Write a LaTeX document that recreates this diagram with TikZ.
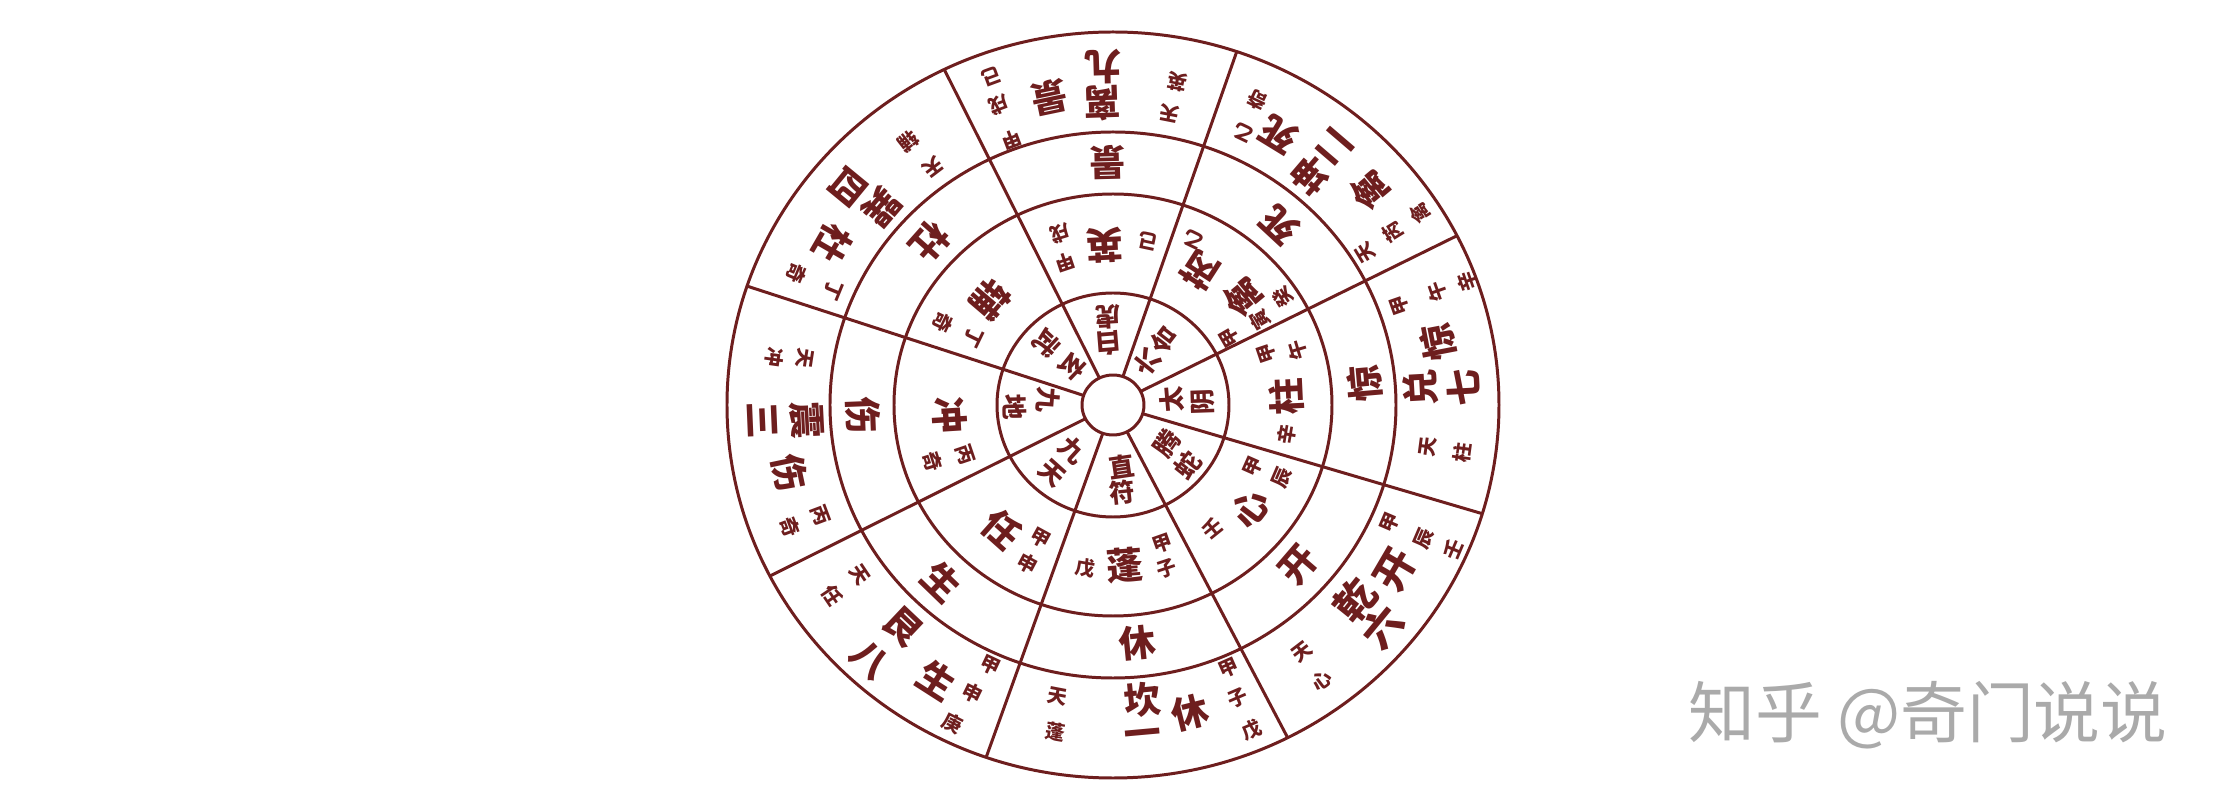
\documentclass[tikz,border=0pt]{standalone}
\usepackage{fontspec}
\newfontfamily\cjk{Noto Sans CJK SC}
\definecolor{ink}{HTML}{6E1E1E}
\definecolor{wm}{HTML}{AAAAAA}
\newcounter{qn}
\tikzset{
  bigc/.style={inner sep=0pt, text=ink, font=\cjk\bfseries\fontsize{10.5}{11}\selectfont},
  hugec/.style={inner sep=0pt, text=ink, font=\cjk\bfseries\fontsize{11.5}{12}\selectfont},
  midc/.style={inner sep=0pt, text=ink, font=\cjk\bfseries\fontsize{7.3}{8}\selectfont},
  smallc/.style={inner sep=0pt, text=ink, font=\cjk\bfseries\fontsize{5.6}{6}\selectfont},
  ringline/.style={draw=ink, line width=0.85pt},
}
% #1 style, #2 x, #3 y (image pixels), #4 text
\newcommand\qc[4]{%
  \stepcounter{qn}%
  \pgfmathsetmacro\qX{#2-1113}%
  \pgfmathsetmacro\qY{405-#3}%
  \pgfmathsetmacro\qA{atan2(\qY,\qX)+90}%
  \node[#1,rotate=\qA] (q\theqn) at (\qX,\qY) {#4};%
}
\begin{document}
\begin{tikzpicture}[x=0.1mm,y=0.1mm]
\useasboundingbox[fill=white] (-1113,-400) rectangle (1108,405);
% radial lines
\begin{scope}
  \clip (0,0) ellipse [x radius=386, y radius=373];
  \foreach \a in {26.2,70.7,116.7,162,206.5,250.2,297.7,343.6}
    \draw[ringline] (0,0) -- (\a:460);
\end{scope}
% rings
\draw[ringline] (0,0) ellipse [x radius=386, y radius=373];
\draw[ringline] (0,0) ellipse [x radius=283, y radius=273];
\draw[ringline] (0,0) ellipse [x radius=219, y radius=211];
\draw[ringline] (0,0) ellipse [x radius=116, y radius=112];
\filldraw[ringline, fill=white] (0,0) ellipse [x radius=31, y radius=30];

% ---- Kan (bottom)
\qc{smallc}{1057}{697}{天}\qc{smallc}{1055}{732}{蓬}
\qc{bigc}{1142}{700}{坎}\qc{bigc}{1143}{738}{一}\qc{bigc}{1190}{712}{休}
\qc{smallc}{1229}{668}{甲}\qc{smallc}{1238}{698}{子}\qc{smallc}{1252}{730}{戊}
\qc{bigc}{1137}{643}{休}
\qc{smallc}{1085}{568}{戊}\qc{bigc}{1125}{565}{蓬}\qc{smallc}{1162}{544}{甲}\qc{smallc}{1167}{569}{子}
\qc{midc}{1122}{467}{直}\qc{midc}{1122}{492}{符}
% ---- Gen (lower left)
\qc{smallc}{860}{575}{天}\qc{smallc}{832}{595}{任}
\qc{bigc}{903}{627}{艮}\qc{bigc}{870}{660}{八}\qc{bigc}{937}{680}{生}
\qc{smallc}{990}{665}{甲}\qc{smallc}{973}{693}{申}\qc{smallc}{953}{723}{庚}
\qc{bigc}{942}{582}{生}
\qc{bigc}{1002}{529}{任}\qc{smallc}{1040}{538}{甲}\qc{smallc}{1028}{564}{申}
\qc{midc}{1072}{450}{九}\qc{midc}{1052}{473}{天}
% ---- Zhen (left)
\qc{smallc}{805}{358}{天}\qc{smallc}{775}{357}{冲}
\qc{bigc}{807}{420}{震}\qc{bigc}{763}{420}{三}\qc{bigc}{790}{473}{伤}
\qc{smallc}{820}{515}{丙}\qc{smallc}{790}{527}{奇}
\qc{bigc}{863}{415}{伤}
\qc{bigc}{950}{415}{冲}\qc{smallc}{965}{455}{丙}\qc{smallc}{933}{462}{奇}
\qc{midc}{1048}{400}{九}\qc{midc}{1015}{407}{地}
% ---- Xun (upper left)
\qc{smallc}{933}{167}{天}\qc{smallc}{908}{142}{辅}
\qc{bigc}{882}{207}{巽}\qc{bigc}{848}{187}{四}\qc{bigc}{832}{243}{杜}
\qc{smallc}{833}{290}{丁}\qc{smallc}{797}{273}{奇}
\qc{bigc}{930}{242}{杜}
\qc{bigc}{990}{300}{辅}\qc{smallc}{973}{337}{丁}\qc{smallc}{943}{323}{奇}
\qc{midc}{1073}{367}{玄}\qc{midc}{1047}{343}{武}
% ---- Li (top)
\qc{smallc}{1012}{140}{甲}\qc{smallc}{999}{105}{戌}\qc{smallc}{992}{77}{己}
\qc{bigc}{1049}{98}{景}\qc{bigc}{1103}{103}{离}\qc{bigc}{1103}{67}{九}
\qc{smallc}{1170}{113}{天}\qc{smallc}{1177}{82}{英}
\qc{bigc}{1107}{163}{景}
\qc{smallc}{1065}{262}{甲}\qc{smallc}{1060}{233}{戌}\qc{bigc}{1105}{245}{英}\qc{smallc}{1148}{241}{己}
\qc{midc}{1108}{343}{白}\qc{midc}{1108}{317}{虎}
% ---- Kun (upper right)
\qc{smallc}{1243}{133}{乙}\qc{smallc}{1257}{100}{奇}
\qc{bigc}{1279}{134}{死}\qc{bigc}{1310}{175}{坤}\qc{bigc}{1334}{147}{二}
\qc{bigc}{1370}{190}{禽}
\qc{smallc}{1365}{253}{天}\qc{smallc}{1393}{232}{芮}\qc{smallc}{1420}{213}{禽}
\qc{bigc}{1280}{225}{死}
\qc{smallc}{1193}{240}{乙}\qc{bigc}{1200}{270}{芮}\qc{bigc}{1243}{297}{禽}
\qc{smallc}{1230}{337}{甲}\qc{smallc}{1260}{320}{寅}\qc{smallc}{1283}{297}{癸}
\qc{midc}{1147}{362}{六}\qc{midc}{1163}{340}{合}
% ---- Dui (right)
\qc{smallc}{1400}{305}{甲}\qc{smallc}{1437}{292}{午}\qc{smallc}{1467}{282}{辛}
\qc{bigc}{1438}{342}{惊}\qc{bigc}{1420}{388}{兑}\qc{bigc}{1463}{388}{七}
\qc{smallc}{1428}{447}{天}\qc{smallc}{1462}{453}{柱}
\qc{bigc}{1365}{383}{惊}
\qc{smallc}{1267}{353}{甲}\qc{smallc}{1297}{350}{午}\qc{bigc}{1287}{397}{柱}\qc{smallc}{1287}{435}{辛}
\qc{midc}{1172}{400}{太}\qc{midc}{1203}{402}{阴}
% ---- Qian (lower right)
\qc{smallc}{1390}{523}{甲}\qc{smallc}{1424}{539}{辰}\qc{smallc}{1453}{549}{壬}
\qc{hugec}{1395}{570}{开}\qc{hugec}{1355}{600}{乾}\qc{hugec}{1382}{627}{六}
\qc{smallc}{1302}{652}{天}\qc{smallc}{1322}{680}{心}
\qc{bigc}{1299}{565}{开}
\qc{smallc}{1253}{467}{甲}\qc{smallc}{1282}{478}{辰}\qc{bigc}{1250}{508}{心}\qc{smallc}{1212}{528}{壬}
\qc{midc}{1167}{443}{腾}\qc{midc}{1188}{465}{蛇}

% watermark
\node[anchor=west, inner sep=0pt, text=wm, font=\cjk\fontsize{19}{20}\selectfont] (wmk) at (575,-310) {知乎 @奇门说说};
\end{tikzpicture}
\end{document}
